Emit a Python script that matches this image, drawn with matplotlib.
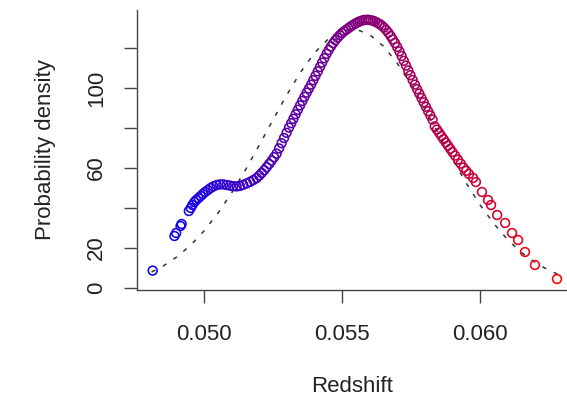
import numpy as np
import matplotlib
matplotlib.use("Agg")
import matplotlib.pyplot as plt

plt.rcParams['font.family'] = ['Liberation Sans', 'DejaVu Sans']

# --- data ---
# redshift of each galaxy and the density estimate at that redshift
z_obs = [0.04814, 0.04893, 0.04899, 0.04915, 0.04919,
         0.04945, 0.04952, 0.04958, 0.04965, 0.04972, 0.04980, 0.04988, 0.04996,
         0.05004, 0.05014, 0.05024, 0.05034, 0.05046, 0.05058, 0.05070, 0.05082,
         0.05094, 0.05106, 0.05118, 0.05130, 0.05142, 0.05155, 0.05167, 0.05179,
         0.05191, 0.05200, 0.05209, 0.05218, 0.05227, 0.05236, 0.05245, 0.05254,
         0.05263, 0.05272, 0.05281, 0.05290, 0.05299, 0.05308, 0.05316, 0.05324,
         0.05332, 0.05340, 0.05348, 0.05356, 0.05364, 0.05372, 0.05380, 0.05388,
         0.05396, 0.05404, 0.05412, 0.05420, 0.05428, 0.05436, 0.05444, 0.05452,
         0.05460, 0.05468, 0.05476, 0.05484, 0.05492, 0.05500, 0.05508, 0.05516,
         0.05524, 0.05532, 0.05540, 0.05548, 0.05556, 0.05564, 0.05572, 0.05580,
         0.05588, 0.05596, 0.05604, 0.05612, 0.05620, 0.05628, 0.05636, 0.05644,
         0.05652, 0.05660, 0.05668, 0.05676, 0.05684, 0.05692, 0.05700, 0.05708,
         0.05716, 0.05724, 0.05732, 0.05740, 0.05748, 0.05756, 0.05764, 0.05772,
         0.05780, 0.05788, 0.05796, 0.05804, 0.05812, 0.05820, 0.05828, 0.05836,
         0.05844, 0.05852, 0.05860, 0.05868, 0.05876, 0.05884, 0.05892, 0.05900,
         0.05910, 0.05920, 0.05930, 0.05940, 0.05950, 0.05960, 0.05975, 0.05985,
         0.06007, 0.06029, 0.06040, 0.06062, 0.06091, 0.06116, 0.06138, 0.06163,
         0.06199, 0.06279]
dens_obs = [8.7, 26.0, 27.5, 31.0, 32.0,
            38.5, 40.0, 41.5, 43.0, 44.0, 45.0, 46.0, 47.0,
            48.0, 49.0, 50.0, 50.8, 51.5, 51.8, 51.8, 51.5,
            51.2, 50.9, 50.8, 51.0, 51.6, 52.3, 53.1, 54.0,
            55.0, 56.2, 57.5, 58.9, 60.4, 62.0, 63.7, 65.4,
            67.2, 69.8, 72.4, 75.0, 77.6, 80.2, 82.4, 84.6,
            86.9, 89.1, 91.3, 93.5, 95.6, 97.7, 99.7, 101.7,
            103.9, 106.1, 108.3, 110.5, 112.7, 114.9, 117.1, 119.0,
            120.8, 122.4, 123.9, 125.2, 126.4, 127.5, 128.4, 129.2,
            130.0, 130.8, 131.5, 132.2, 132.8, 133.3, 133.7, 134.0,
            134.1, 134.1, 133.9, 133.6, 133.2, 132.6, 132.0, 131.2,
            130.2, 129.0, 127.6, 126.0, 124.3, 122.5, 120.5, 118.3,
            116.0, 113.6, 111.2, 108.8, 106.4, 104.0, 101.7, 99.4,
            97.2, 95.0, 92.8, 90.6, 88.4, 86.3, 84.2, 80.8,
            79.2, 77.6, 76.0, 74.4, 72.8, 71.2, 69.6, 68.0,
            66.2, 64.2, 62.2, 60.2, 58.6, 57.0, 55.0, 53.0,
            48.0, 44.0, 41.5, 36.5, 32.5, 27.5, 24.0, 18.0,
            11.5, 4.5]

# dashed reference curve
z_ref = [0.0481, 0.0485, 0.0490, 0.0495, 0.0500, 0.0505, 0.0510, 0.0515,
         0.0520, 0.0525, 0.0530, 0.0535, 0.0540, 0.0545, 0.0550, 0.0555,
         0.0560, 0.0565, 0.0570, 0.0575, 0.0580, 0.0585, 0.0590, 0.0595,
         0.0600, 0.0605, 0.0610, 0.0615, 0.0620, 0.0625, 0.0628]
dens_ref = [8.0, 10.8, 15.4, 21.2, 28.5, 37.3, 47.5, 59.0,
            71.4, 84.1, 96.6, 107.9, 117.5, 124.5, 128.6, 129.4,
            126.7, 120.9, 112.4, 101.7, 89.7, 77.0, 64.4, 52.5,
            41.6, 32.2, 24.2, 17.8, 12.7, 8.8, 7.0]

x_ticks = [0.050, 0.055, 0.060]
x_labels = ["0.050", "0.055", "0.060"]
y_ticks = [0, 20, 40, 60, 80, 100, 120]
y_labels = ["0", "20", "", "60", "", "100", ""]

# --- figure ---
fig = plt.figure(figsize=(5.67, 4.0), dpi=100)
ax = fig.add_axes([137/567, 1 - 290/400, 430/567, 280/400])

z = np.array(z_obs)
t = (z - z.min()) / (z.max() - z.min())
cols = np.column_stack([t, np.zeros_like(t), 1 - t])

ax.plot(z_ref, dens_ref, color='#333333', lw=1.1, dashes=(2.8, 5.5), zorder=1)
ax.scatter(z_obs, dens_obs, s=40, facecolors='none', edgecolors=cols,
           linewidths=1.15, zorder=2)

ax.set_xlim(0.047572, 0.063152)
ax.set_ylim(-1, 139)

for s in ['top', 'right']:
    ax.spines[s].set_visible(False)
for s in ['left', 'bottom']:
    ax.spines[s].set_color('#444444')
    ax.spines[s].set_linewidth(1.0)

ax.set_xticks(x_ticks)
ax.set_xticklabels(x_labels)
ax.set_yticks(y_ticks)
ax.set_yticklabels(y_labels, rotation=90, va='center')
ax.tick_params(axis='both', length=9.5, width=1.0, color='#444444',
               labelsize=16, labelcolor='#222222')
ax.tick_params(axis='x', pad=15)
ax.tick_params(axis='y', pad=12)

ax.set_xlabel("Redshift", fontsize=16, color='#222222', labelpad=22)
ax.set_ylabel("Probability density", fontsize=16, color='#222222', labelpad=22)

fig.savefig('out.png', dpi=100)
